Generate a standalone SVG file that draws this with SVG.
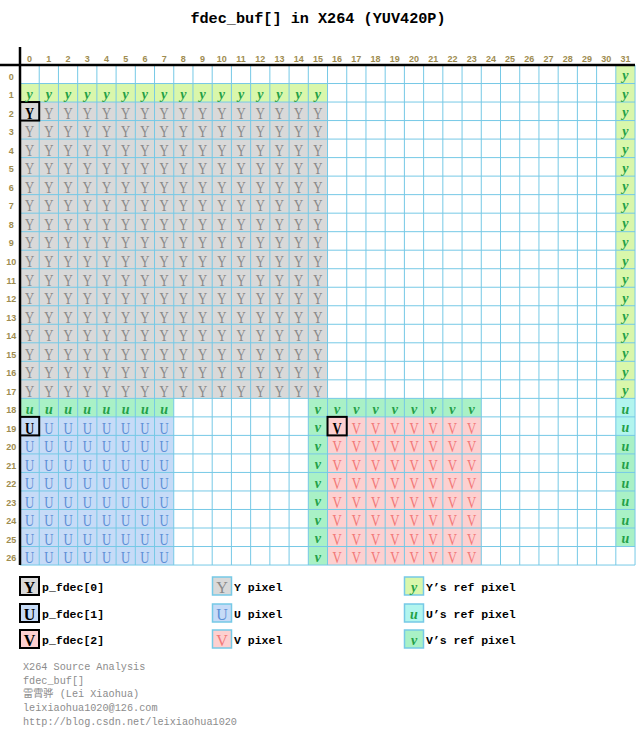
<svg xmlns="http://www.w3.org/2000/svg" width="637" height="731" viewBox="0 0 637 731">
<style>
.ttl{font:bold 15.2px "Liberation Mono",monospace;fill:#000;text-anchor:middle}
.hd{font:bold 9px "Liberation Sans",Arial,sans-serif;fill:#9e8c50;text-anchor:middle}
.big{font-family:"Liberation Serif",serif;font-size:17px;text-anchor:middle}
.cY{fill:#8a8a8a}.cU{fill:#5d8fd6}.cV{fill:#f27878}
.hl{fill:#000;font-weight:bold}
.ref{font:italic bold 14px "Liberation Serif",serif;fill:#23a046;text-anchor:middle}
.lg{font:bold 11.5px "Liberation Mono",monospace;fill:#000}
.lgl{font-family:"Liberation Serif",serif;font-size:16px;text-anchor:middle}
.ft{font:10.2px "Liberation Mono","Noto Sans CJK SC",monospace;fill:#8c8c8c}
.gl{fill:none;stroke:#76c9e6;stroke-width:1}
.hb{fill:none;stroke:#000;stroke-width:2}
.lb{stroke:#76c9e6;stroke-width:1.5}
</style>
<rect width="637" height="731" fill="#fff"/>
<text class="ttl" x="318" y="22.5">fdec_buf[] in X264 (YUV420P)</text>

<g id="fills">
<rect x="20" y="65" width="615.04" height="500.04" fill="#fff"/>
<rect x="20" y="83.52" width="307.52" height="18.52" fill="#d9f7ab"/>
<rect x="615.82" y="65" width="19.22" height="333.36" fill="#d9f7ab"/>
<rect x="20" y="102.04" width="307.52" height="296.32" fill="#d9d9d9"/>
<rect x="20" y="398.36" width="153.76" height="18.52" fill="#a9f1c6"/>
<rect x="20" y="416.88" width="153.76" height="148.16" fill="#c6dbf7"/>
<rect x="308.3" y="398.36" width="172.98" height="18.52" fill="#a9f1c6"/>
<rect x="308.3" y="416.88" width="19.22" height="148.16" fill="#a9f1c6"/>
<rect x="327.52" y="416.88" width="153.76" height="148.16" fill="#fdd0d0"/>
<rect x="615.82" y="398.36" width="19.22" height="37.04" fill="#b2f5ee"/>
<rect x="615.82" y="435.4" width="19.22" height="111.12" fill="#a9f1c6"/>
</g>

<g id="grid-lines">
<path class="gl" d="M20 65V565.04M39.22 65V565.04M58.44 65V565.04M77.66 65V565.04M96.88 65V565.04M116.1 65V565.04M135.32 65V565.04M154.54 65V565.04M173.76 65V565.04M192.98 65V565.04M212.2 65V565.04M231.42 65V565.04M250.64 65V565.04M269.86 65V565.04M289.08 65V565.04M308.3 65V565.04M327.52 65V565.04M346.74 65V565.04M365.96 65V565.04M385.18 65V565.04M404.4 65V565.04M423.62 65V565.04M442.84 65V565.04M462.06 65V565.04M481.28 65V565.04M500.5 65V565.04M519.72 65V565.04M538.94 65V565.04M558.16 65V565.04M577.38 65V565.04M596.6 65V565.04M615.82 65V565.04M635.04 65V565.04"/>
<path class="gl" d="M20 83.52H635.04M20 102.04H635.04M20 120.56H635.04M20 139.08H635.04M20 157.6H635.04M20 176.12H635.04M20 194.64H635.04M20 213.16H635.04M20 231.68H635.04M20 250.2H635.04M20 268.72H635.04M20 287.24H635.04M20 305.76H635.04M20 324.28H635.04M20 342.8H635.04M20 361.32H635.04M20 379.84H635.04M20 398.36H635.04M20 416.88H635.04M20 435.4H635.04M20 453.92H635.04M20 472.44H635.04M20 490.96H635.04M20 509.48H635.04M20 528H635.04M20 546.52H635.04M20 565.04H635.04"/>
</g>

<g id="highlights">
<rect class="hb" x="20" y="102.04" width="19.22" height="18.52"/>
<rect class="hb" x="20" y="416.88" width="19.22" height="18.52"/>
<rect class="hb" x="327.52" y="416.88" width="19.22" height="18.52"/>
</g>

<g id="axis" stroke="#000" stroke-width="2.5">
<line x1="0" y1="65" x2="635" y2="65"/>
<line x1="20" y1="47" x2="20" y2="565"/>
</g>

<g id="col-headers" class="hd">
<text x="29.61" y="61.5">0</text><text x="48.83" y="61.5">1</text><text x="68.05" y="61.5">2</text><text x="87.27" y="61.5">3</text><text x="106.49" y="61.5">4</text><text x="125.71" y="61.5">5</text><text x="144.93" y="61.5">6</text><text x="164.15" y="61.5">7</text><text x="183.37" y="61.5">8</text><text x="202.59" y="61.5">9</text><text x="221.81" y="61.5">10</text><text x="241.03" y="61.5">11</text><text x="260.25" y="61.5">12</text><text x="279.47" y="61.5">13</text><text x="298.69" y="61.5">14</text><text x="317.91" y="61.5">15</text><text x="337.13" y="61.5">16</text><text x="356.35" y="61.5">17</text><text x="375.57" y="61.5">18</text><text x="394.79" y="61.5">19</text><text x="414.01" y="61.5">20</text><text x="433.23" y="61.5">21</text><text x="452.45" y="61.5">22</text><text x="471.67" y="61.5">23</text><text x="490.89" y="61.5">24</text><text x="510.11" y="61.5">25</text><text x="529.33" y="61.5">26</text><text x="548.55" y="61.5">27</text><text x="567.77" y="61.5">28</text><text x="586.99" y="61.5">29</text><text x="606.21" y="61.5">30</text><text x="625.43" y="61.5">31</text>
</g>

<g id="row-headers" class="hd">
<text x="11.3" y="79.8">0</text><text x="11.3" y="98.3">1</text><text x="11.3" y="116.8">2</text><text x="11.3" y="135.3">3</text><text x="11.3" y="153.8">4</text><text x="11.3" y="172.4">5</text><text x="11.3" y="190.9">6</text><text x="11.3" y="209.4">7</text><text x="11.3" y="227.9">8</text><text x="11.3" y="246.4">9</text><text x="11.3" y="265">10</text><text x="11.3" y="283.5">11</text><text x="11.3" y="302">12</text><text x="11.3" y="320.5">13</text><text x="11.3" y="339">14</text><text x="11.3" y="357.6">15</text><text x="11.3" y="376.1">16</text><text x="11.3" y="394.6">17</text><text x="11.3" y="413.1">18</text><text x="11.3" y="431.6">19</text><text x="11.3" y="450.2">20</text><text x="11.3" y="468.7">21</text><text x="11.3" y="487.2">22</text><text x="11.3" y="505.7">23</text><text x="11.3" y="524.2">24</text><text x="11.3" y="542.8">25</text><text x="11.3" y="561.3">26</text>
</g>

<g id="pixels" transform="scale(0.75,1)">
<g id="Y-pixels" class="big cY">
<g transform="translate(0,118.8)"><text class="hl" x="39.48">Y</text><text x="65.11">Y</text><text x="90.73">Y</text><text x="116.36">Y</text><text x="141.99">Y</text><text x="167.61">Y</text><text x="193.24">Y</text><text x="218.87">Y</text><text x="244.49">Y</text><text x="270.12">Y</text><text x="295.75">Y</text><text x="321.37">Y</text><text x="347">Y</text><text x="372.63">Y</text><text x="398.25">Y</text><text x="423.88">Y</text></g>
<g transform="translate(0,137.3)"><text x="39.48">Y</text><text x="65.11">Y</text><text x="90.73">Y</text><text x="116.36">Y</text><text x="141.99">Y</text><text x="167.61">Y</text><text x="193.24">Y</text><text x="218.87">Y</text><text x="244.49">Y</text><text x="270.12">Y</text><text x="295.75">Y</text><text x="321.37">Y</text><text x="347">Y</text><text x="372.63">Y</text><text x="398.25">Y</text><text x="423.88">Y</text></g>
<g transform="translate(0,155.8)"><text x="39.48">Y</text><text x="65.11">Y</text><text x="90.73">Y</text><text x="116.36">Y</text><text x="141.99">Y</text><text x="167.61">Y</text><text x="193.24">Y</text><text x="218.87">Y</text><text x="244.49">Y</text><text x="270.12">Y</text><text x="295.75">Y</text><text x="321.37">Y</text><text x="347">Y</text><text x="372.63">Y</text><text x="398.25">Y</text><text x="423.88">Y</text></g>
<g transform="translate(0,174.4)"><text x="39.48">Y</text><text x="65.11">Y</text><text x="90.73">Y</text><text x="116.36">Y</text><text x="141.99">Y</text><text x="167.61">Y</text><text x="193.24">Y</text><text x="218.87">Y</text><text x="244.49">Y</text><text x="270.12">Y</text><text x="295.75">Y</text><text x="321.37">Y</text><text x="347">Y</text><text x="372.63">Y</text><text x="398.25">Y</text><text x="423.88">Y</text></g>
<g transform="translate(0,192.9)"><text x="39.48">Y</text><text x="65.11">Y</text><text x="90.73">Y</text><text x="116.36">Y</text><text x="141.99">Y</text><text x="167.61">Y</text><text x="193.24">Y</text><text x="218.87">Y</text><text x="244.49">Y</text><text x="270.12">Y</text><text x="295.75">Y</text><text x="321.37">Y</text><text x="347">Y</text><text x="372.63">Y</text><text x="398.25">Y</text><text x="423.88">Y</text></g>
<g transform="translate(0,211.4)"><text x="39.48">Y</text><text x="65.11">Y</text><text x="90.73">Y</text><text x="116.36">Y</text><text x="141.99">Y</text><text x="167.61">Y</text><text x="193.24">Y</text><text x="218.87">Y</text><text x="244.49">Y</text><text x="270.12">Y</text><text x="295.75">Y</text><text x="321.37">Y</text><text x="347">Y</text><text x="372.63">Y</text><text x="398.25">Y</text><text x="423.88">Y</text></g>
<g transform="translate(0,229.9)"><text x="39.48">Y</text><text x="65.11">Y</text><text x="90.73">Y</text><text x="116.36">Y</text><text x="141.99">Y</text><text x="167.61">Y</text><text x="193.24">Y</text><text x="218.87">Y</text><text x="244.49">Y</text><text x="270.12">Y</text><text x="295.75">Y</text><text x="321.37">Y</text><text x="347">Y</text><text x="372.63">Y</text><text x="398.25">Y</text><text x="423.88">Y</text></g>
<g transform="translate(0,248.4)"><text x="39.48">Y</text><text x="65.11">Y</text><text x="90.73">Y</text><text x="116.36">Y</text><text x="141.99">Y</text><text x="167.61">Y</text><text x="193.24">Y</text><text x="218.87">Y</text><text x="244.49">Y</text><text x="270.12">Y</text><text x="295.75">Y</text><text x="321.37">Y</text><text x="347">Y</text><text x="372.63">Y</text><text x="398.25">Y</text><text x="423.88">Y</text></g>
<g transform="translate(0,267)"><text x="39.48">Y</text><text x="65.11">Y</text><text x="90.73">Y</text><text x="116.36">Y</text><text x="141.99">Y</text><text x="167.61">Y</text><text x="193.24">Y</text><text x="218.87">Y</text><text x="244.49">Y</text><text x="270.12">Y</text><text x="295.75">Y</text><text x="321.37">Y</text><text x="347">Y</text><text x="372.63">Y</text><text x="398.25">Y</text><text x="423.88">Y</text></g>
<g transform="translate(0,285.5)"><text x="39.48">Y</text><text x="65.11">Y</text><text x="90.73">Y</text><text x="116.36">Y</text><text x="141.99">Y</text><text x="167.61">Y</text><text x="193.24">Y</text><text x="218.87">Y</text><text x="244.49">Y</text><text x="270.12">Y</text><text x="295.75">Y</text><text x="321.37">Y</text><text x="347">Y</text><text x="372.63">Y</text><text x="398.25">Y</text><text x="423.88">Y</text></g>
<g transform="translate(0,304)"><text x="39.48">Y</text><text x="65.11">Y</text><text x="90.73">Y</text><text x="116.36">Y</text><text x="141.99">Y</text><text x="167.61">Y</text><text x="193.24">Y</text><text x="218.87">Y</text><text x="244.49">Y</text><text x="270.12">Y</text><text x="295.75">Y</text><text x="321.37">Y</text><text x="347">Y</text><text x="372.63">Y</text><text x="398.25">Y</text><text x="423.88">Y</text></g>
<g transform="translate(0,322.5)"><text x="39.48">Y</text><text x="65.11">Y</text><text x="90.73">Y</text><text x="116.36">Y</text><text x="141.99">Y</text><text x="167.61">Y</text><text x="193.24">Y</text><text x="218.87">Y</text><text x="244.49">Y</text><text x="270.12">Y</text><text x="295.75">Y</text><text x="321.37">Y</text><text x="347">Y</text><text x="372.63">Y</text><text x="398.25">Y</text><text x="423.88">Y</text></g>
<g transform="translate(0,341)"><text x="39.48">Y</text><text x="65.11">Y</text><text x="90.73">Y</text><text x="116.36">Y</text><text x="141.99">Y</text><text x="167.61">Y</text><text x="193.24">Y</text><text x="218.87">Y</text><text x="244.49">Y</text><text x="270.12">Y</text><text x="295.75">Y</text><text x="321.37">Y</text><text x="347">Y</text><text x="372.63">Y</text><text x="398.25">Y</text><text x="423.88">Y</text></g>
<g transform="translate(0,359.6)"><text x="39.48">Y</text><text x="65.11">Y</text><text x="90.73">Y</text><text x="116.36">Y</text><text x="141.99">Y</text><text x="167.61">Y</text><text x="193.24">Y</text><text x="218.87">Y</text><text x="244.49">Y</text><text x="270.12">Y</text><text x="295.75">Y</text><text x="321.37">Y</text><text x="347">Y</text><text x="372.63">Y</text><text x="398.25">Y</text><text x="423.88">Y</text></g>
<g transform="translate(0,378.1)"><text x="39.48">Y</text><text x="65.11">Y</text><text x="90.73">Y</text><text x="116.36">Y</text><text x="141.99">Y</text><text x="167.61">Y</text><text x="193.24">Y</text><text x="218.87">Y</text><text x="244.49">Y</text><text x="270.12">Y</text><text x="295.75">Y</text><text x="321.37">Y</text><text x="347">Y</text><text x="372.63">Y</text><text x="398.25">Y</text><text x="423.88">Y</text></g>
<g transform="translate(0,396.6)"><text x="39.48">Y</text><text x="65.11">Y</text><text x="90.73">Y</text><text x="116.36">Y</text><text x="141.99">Y</text><text x="167.61">Y</text><text x="193.24">Y</text><text x="218.87">Y</text><text x="244.49">Y</text><text x="270.12">Y</text><text x="295.75">Y</text><text x="321.37">Y</text><text x="347">Y</text><text x="372.63">Y</text><text x="398.25">Y</text><text x="423.88">Y</text></g>
</g>
<g id="U-pixels" class="big cU">
<g transform="translate(0,433.6)"><text class="hl" x="39.48">U</text><text x="65.11">U</text><text x="90.73">U</text><text x="116.36">U</text><text x="141.99">U</text><text x="167.61">U</text><text x="193.24">U</text><text x="218.87">U</text></g>
<g transform="translate(0,452.2)"><text x="39.48">U</text><text x="65.11">U</text><text x="90.73">U</text><text x="116.36">U</text><text x="141.99">U</text><text x="167.61">U</text><text x="193.24">U</text><text x="218.87">U</text></g>
<g transform="translate(0,470.7)"><text x="39.48">U</text><text x="65.11">U</text><text x="90.73">U</text><text x="116.36">U</text><text x="141.99">U</text><text x="167.61">U</text><text x="193.24">U</text><text x="218.87">U</text></g>
<g transform="translate(0,489.2)"><text x="39.48">U</text><text x="65.11">U</text><text x="90.73">U</text><text x="116.36">U</text><text x="141.99">U</text><text x="167.61">U</text><text x="193.24">U</text><text x="218.87">U</text></g>
<g transform="translate(0,507.7)"><text x="39.48">U</text><text x="65.11">U</text><text x="90.73">U</text><text x="116.36">U</text><text x="141.99">U</text><text x="167.61">U</text><text x="193.24">U</text><text x="218.87">U</text></g>
<g transform="translate(0,526.2)"><text x="39.48">U</text><text x="65.11">U</text><text x="90.73">U</text><text x="116.36">U</text><text x="141.99">U</text><text x="167.61">U</text><text x="193.24">U</text><text x="218.87">U</text></g>
<g transform="translate(0,544.8)"><text x="39.48">U</text><text x="65.11">U</text><text x="90.73">U</text><text x="116.36">U</text><text x="141.99">U</text><text x="167.61">U</text><text x="193.24">U</text><text x="218.87">U</text></g>
<g transform="translate(0,563.3)"><text x="39.48">U</text><text x="65.11">U</text><text x="90.73">U</text><text x="116.36">U</text><text x="141.99">U</text><text x="167.61">U</text><text x="193.24">U</text><text x="218.87">U</text></g>
</g>
<g id="V-pixels" class="big cV">
<g transform="translate(0,433.6)"><text class="hl" x="449.51">V</text><text x="475.13">V</text><text x="500.76">V</text><text x="526.39">V</text><text x="552.01">V</text><text x="577.64">V</text><text x="603.27">V</text><text x="628.89">V</text></g>
<g transform="translate(0,452.2)"><text x="449.51">V</text><text x="475.13">V</text><text x="500.76">V</text><text x="526.39">V</text><text x="552.01">V</text><text x="577.64">V</text><text x="603.27">V</text><text x="628.89">V</text></g>
<g transform="translate(0,470.7)"><text x="449.51">V</text><text x="475.13">V</text><text x="500.76">V</text><text x="526.39">V</text><text x="552.01">V</text><text x="577.64">V</text><text x="603.27">V</text><text x="628.89">V</text></g>
<g transform="translate(0,489.2)"><text x="449.51">V</text><text x="475.13">V</text><text x="500.76">V</text><text x="526.39">V</text><text x="552.01">V</text><text x="577.64">V</text><text x="603.27">V</text><text x="628.89">V</text></g>
<g transform="translate(0,507.7)"><text x="449.51">V</text><text x="475.13">V</text><text x="500.76">V</text><text x="526.39">V</text><text x="552.01">V</text><text x="577.64">V</text><text x="603.27">V</text><text x="628.89">V</text></g>
<g transform="translate(0,526.2)"><text x="449.51">V</text><text x="475.13">V</text><text x="500.76">V</text><text x="526.39">V</text><text x="552.01">V</text><text x="577.64">V</text><text x="603.27">V</text><text x="628.89">V</text></g>
<g transform="translate(0,544.8)"><text x="449.51">V</text><text x="475.13">V</text><text x="500.76">V</text><text x="526.39">V</text><text x="552.01">V</text><text x="577.64">V</text><text x="603.27">V</text><text x="628.89">V</text></g>
<g transform="translate(0,563.3)"><text x="449.51">V</text><text x="475.13">V</text><text x="500.76">V</text><text x="526.39">V</text><text x="552.01">V</text><text x="577.64">V</text><text x="603.27">V</text><text x="628.89">V</text></g>
</g>
</g>

<g id="ref-pixels" class="ref">
<g transform="translate(0,98.8)"><text x="29.61">y</text><text x="48.83">y</text><text x="68.05">y</text><text x="87.27">y</text><text x="106.49">y</text><text x="125.71">y</text><text x="144.93">y</text><text x="164.15">y</text><text x="183.37">y</text><text x="202.59">y</text><text x="221.81">y</text><text x="241.03">y</text><text x="260.25">y</text><text x="279.47">y</text><text x="298.69">y</text><text x="317.91">y</text></g>
<g transform="translate(625.43,0)"><text y="80.3">y</text><text y="98.8">y</text><text y="117.3">y</text><text y="135.8">y</text><text y="154.3">y</text><text y="172.9">y</text><text y="191.4">y</text><text y="209.9">y</text><text y="228.4">y</text><text y="246.9">y</text><text y="265.5">y</text><text y="284">y</text><text y="302.5">y</text><text y="321">y</text><text y="339.5">y</text><text y="358.1">y</text><text y="376.6">y</text><text y="395.1">y</text><text y="413.6">u</text><text y="432.1">u</text><text y="450.7">u</text><text y="469.2">u</text><text y="487.7">u</text><text y="506.2">u</text><text y="524.7">u</text><text y="543.3">u</text></g>
<g transform="translate(0,413.6)"><text x="29.61">u</text><text x="48.83">u</text><text x="68.05">u</text><text x="87.27">u</text><text x="106.49">u</text><text x="125.71">u</text><text x="144.93">u</text><text x="164.15">u</text><text x="317.91">v</text><text x="337.13">v</text><text x="356.35">v</text><text x="375.57">v</text><text x="394.79">v</text><text x="414.01">v</text><text x="433.23">v</text><text x="452.45">v</text><text x="471.67">v</text></g>
<g transform="translate(317.91,0)"><text y="432.1">v</text><text y="450.7">v</text><text y="469.2">v</text><text y="487.7">v</text><text y="506.2">v</text><text y="524.7">v</text><text y="543.3">v</text><text y="561.8">v</text></g>
</g>

<g id="legend">
<g id="lg-p0"><rect x="20" y="577" width="19" height="18" fill="#d9d9d9" stroke="#000" stroke-width="2"/><text class="lgl hl" x="29.5" y="592.5">Y</text><text class="lg" x="42" y="590.5">p_fdec[0]</text></g>
<g id="lg-p1"><rect x="20" y="604" width="19" height="18" fill="#c6dbf7" stroke="#000" stroke-width="2"/><text class="lgl hl" x="29.5" y="619.5">U</text><text class="lg" x="42" y="617.5">p_fdec[1]</text></g>
<g id="lg-p2"><rect x="20" y="630" width="19" height="18" fill="#fdd0d0" stroke="#000" stroke-width="2"/><text class="lgl hl" x="29.5" y="645.5">V</text><text class="lg" x="42" y="643.5">p_fdec[2]</text></g>
<g id="lg-y"><rect class="lb" x="212.5" y="577" width="19" height="18" fill="#d9d9d9"/><text class="lgl cY" x="222" y="592.5">Y</text><text class="lg" x="234" y="590.5">Y pixel</text></g>
<g id="lg-u"><rect class="lb" x="212.5" y="604" width="19" height="18" fill="#c6dbf7"/><text class="lgl cU" x="222" y="619.5">U</text><text class="lg" x="234" y="617.5">U pixel</text></g>
<g id="lg-v"><rect class="lb" x="212.5" y="630" width="19" height="18" fill="#fdd0d0"/><text class="lgl cV" x="222" y="645.5">V</text><text class="lg" x="234" y="643.5">V pixel</text></g>
<g id="lg-yr"><rect class="lb" x="404.5" y="577" width="19" height="18" fill="#d9f7ab"/><text class="ref" x="414" y="591.5">y</text><text class="lg" x="426" y="590.5">Y’s ref pixel</text></g>
<g id="lg-ur"><rect class="lb" x="404.5" y="604" width="19" height="18" fill="#b2f5ee"/><text class="ref" x="414" y="618.5">u</text><text class="lg" x="426" y="617.5">U’s ref pixel</text></g>
<g id="lg-vr"><rect class="lb" x="404.5" y="630" width="19" height="18" fill="#a9f1c6"/><text class="ref" x="414" y="644.5">v</text><text class="lg" x="426" y="643.5">V’s ref pixel</text></g>
</g>

<g id="footer" class="ft">
<text x="23" y="670">X264 Source Analysis</text>
<text x="23" y="683.7">fdec_buf[]</text>
<text x="23" y="697.4">雷霄骅 (Lei Xiaohua)</text>
<text x="23" y="711.1">leixiaohua1020@126.com</text>
<text x="23" y="724.8">http://blog.csdn.net/leixiaohua1020</text>
</g>
</svg>
